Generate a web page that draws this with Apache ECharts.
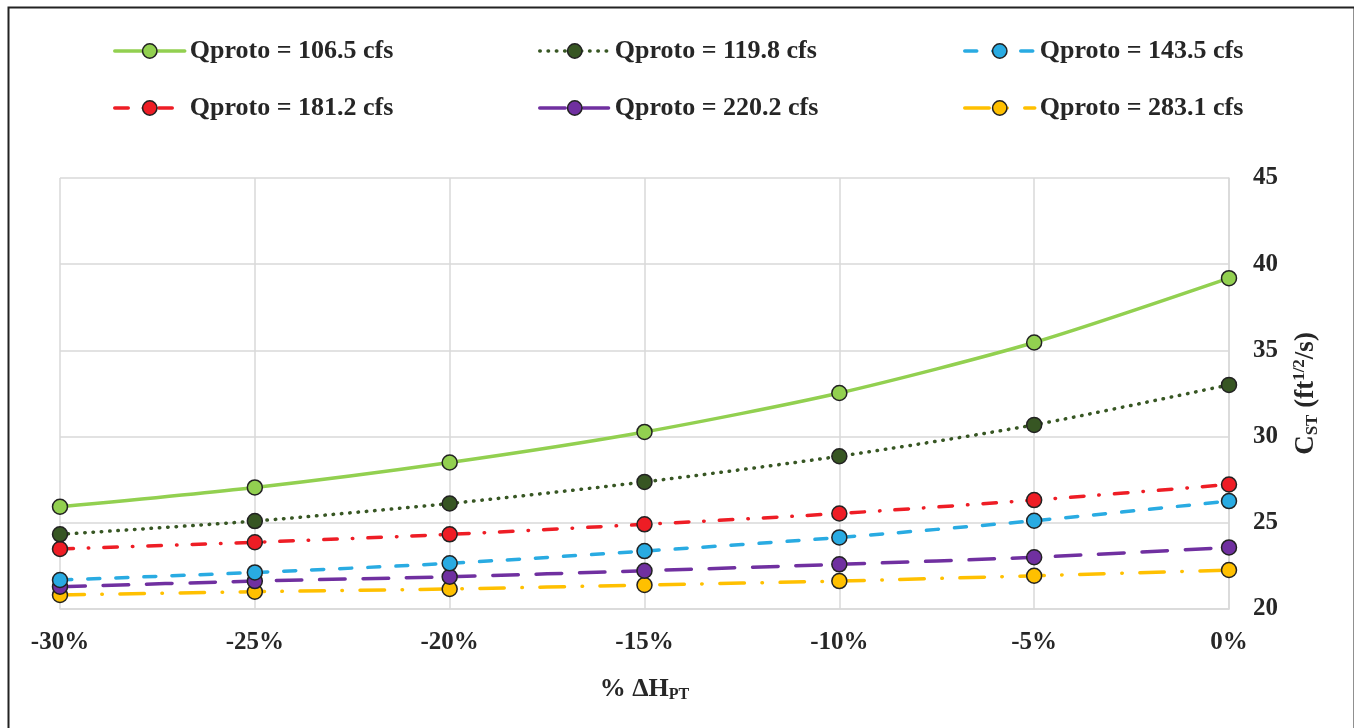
<!DOCTYPE html>
<html>
<head>
<meta charset="utf-8">
<script src="https://cdn.jsdelivr.net/npm/echarts@6/dist/echarts.min.js"></script>
<style>
html,body{margin:0;padding:0;background:#fff;}
#chart{width:1354px;height:728px;}
</style>
</head>
<body>
<div id="chart"></div>
<script>
const categories = ['-30%', '-25%', '-20%', '-15%', '-10%', '-5%', '0%'];
const seriesNames = ['Qproto = 106.5 cfs', 'Qproto = 119.8 cfs', 'Qproto = 143.5 cfs',
                     'Qproto = 181.2 cfs', 'Qproto = 220.2 cfs', 'Qproto = 283.1 cfs'];
const q106 = [25.93, 27.05, 28.50, 30.27, 32.53, 35.46, 39.19];
const q120 = [24.33, 25.10, 26.12, 27.37, 28.86, 30.68, 33.00];
const q144 = [21.68, 22.12, 22.65, 23.36, 24.15, 25.12, 26.26];
const q181 = [23.48, 23.87, 24.33, 24.91, 25.54, 26.32, 27.22];
const q220 = [21.29, 21.62, 21.87, 22.22, 22.59, 23.00, 23.57];
const q283 = [20.81, 21.00, 21.16, 21.39, 21.62, 21.93, 22.26];
const yTicks = [20, 25, 30, 35, 40, 45];

const FONT = 'Liberation Serif';
const TXT = '#262626';

const styles = [
  {data: q106, color: '#92D050', type: 'solid'},
  {data: q120, color: '#375623', type: [0.5, 7.8]},
  {data: q144, color: '#29ABE2', type: [12, 16]},
  {data: q181, color: '#EE1D25', type: [13.5, 15, 0.5, 15]},
  {data: q220, color: '#7030A0', type: [25.5, 17.8]},
  {data: q283, color: '#FFC000', type: [24.5, 17.5, 0.5, 17.5]}
];

const series = styles.map((s, i) => ({
  name: seriesNames[i],
  type: 'line',
  data: s.data,
  smooth: 0.25,
  symbol: 'circle',
  symbolSize: 15,
  z: 10 - i,
  itemStyle: {color: s.color, borderColor: '#222', borderWidth: 1.5},
  lineStyle: {color: s.color, width: 3.5, type: s.type, cap: 'round'}
}));

const legendLefts = [108, 533, 958];
const legendTops = [33, 90];
const legends = seriesNames.map((n, i) => ({
  data: [n],
  left: legendLefts[i % 3],
  top: legendTops[Math.floor(i / 3)],
  itemWidth: 70,
  itemHeight: 18,
  selectedMode: false,
  lineStyle: {width: 3.5, cap: 'round'},
  itemStyle: {borderColor: '#222', borderWidth: 1.5},
  textStyle: {fontFamily: FONT, fontWeight: 'bold', fontSize: 26, color: TXT}
}));

const chart = echarts.init(document.getElementById('chart'), null, {renderer: 'canvas'});
chart.setOption({
  animation: false,
  backgroundColor: '#fff',
  graphic: [{
    type: 'rect', left: 6, top: 5, z: 100, silent: true,
    shape: {width: 1346, height: 740},
    style: {fill: 'none', stroke: '#222', lineWidth: 2}
  }],
  legend: legends,
  grid: {left: 60, right: 125, top: 178, bottom: 119},
  xAxis: {
    type: 'category',
    data: categories,
    boundaryGap: false,
    name: '{m|% ΔH}{s|PT}',
    nameLocation: 'middle',
    nameGap: 66,
    nameTextStyle: {
      rich: {
        m: {fontFamily: FONT, fontWeight: 'bold', fontSize: 26, color: TXT, lineHeight: 28},
        s: {fontFamily: FONT, fontWeight: 'bold', fontSize: 16, color: TXT, lineHeight: 16, verticalAlign: 'bottom'}
      }
    },
    axisLine: {show: true, lineStyle: {color: '#D9D9D9', width: 1.5}},
    axisTick: {show: false},
    axisLabel: {fontFamily: FONT, fontWeight: 'bold', fontSize: 25, color: TXT, margin: 21},
    splitLine: {show: true, lineStyle: {color: '#D9D9D9', width: 1.5}}
  },
  yAxis: {
    type: 'value',
    position: 'right',
    min: 20, max: 45, interval: 5,
    name: '{m|C}{s|ST}{m| (ft}{p|1/2}{m|/s)}',
    nameLocation: 'middle',
    nameRotate: 90,
    nameGap: 62,
    nameTextStyle: {
      rich: {
        m: {fontFamily: FONT, fontWeight: 'bold', fontSize: 27, color: TXT, lineHeight: 30},
        s: {fontFamily: FONT, fontWeight: 'bold', fontSize: 17, color: TXT, lineHeight: 17, verticalAlign: 'bottom'},
        p: {fontFamily: FONT, fontWeight: 'bold', fontSize: 17, color: TXT, lineHeight: 17, verticalAlign: 'top'}
      }
    },
    axisLine: {show: true, lineStyle: {color: '#D9D9D9', width: 1.5}},
    axisTick: {show: false},
    axisLabel: {fontFamily: FONT, fontWeight: 'bold', fontSize: 25, color: TXT, margin: 24,
      formatter: v => (yTicks.indexOf(v) >= 0 ? String(v) : '')},
    splitLine: {show: true, lineStyle: {color: '#D9D9D9', width: 1.5}}
  },
  series: series
});
</script>
</body>
</html>
